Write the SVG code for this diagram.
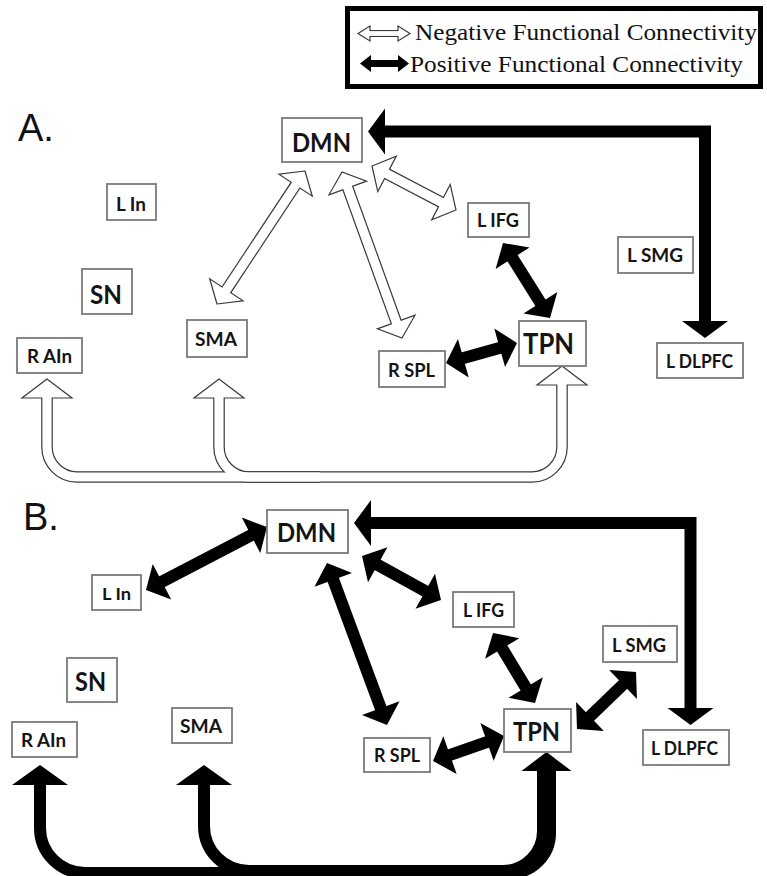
<svg xmlns="http://www.w3.org/2000/svg" width="767" height="876" viewBox="0 0 767 876">
<style>
.box{fill:#fff;stroke:#7a7a7a;stroke-width:1.8}
.lbl{font-family:Lato,"Liberation Sans",sans-serif;font-weight:bold;fill:#141414}
.panel{font-family:"Liberation Sans",Arial,sans-serif;font-size:38px;fill:#111}
.leg{font-family:"Liberation Serif","Times New Roman",serif;font-size:24px;fill:#111}
.hk{stroke:#3a3a3a;stroke-width:11.6;fill:none}
.hw{stroke:#fff;stroke-width:9.2;fill:none}
.hh{fill:#fff;stroke:#3a3a3a;stroke-width:1.2}
.bk{stroke:#000;stroke-width:12;fill:none}
.bh{fill:#000}
</style>
<defs>
<polygon id="hh1" points="0,0 -17,-20 -17,20"/>
<polygon id="hh2" points="0,0 -19,-25 -19,25"/>
<polygon id="bh1" points="0,0 -18,-20 -18,20"/>
<polygon id="bh2" points="0,0 -17,-23 -17,23"/>
<polygon id="bh3" points="0,0 -20,-28 -20,28"/>
<polygon id="bh4" points="0,0 -19,-25 -19,25"/>
</defs>
<rect width="767" height="876" fill="#fff"/>

<g id="legend">
<rect x="347.5" y="8.5" width="413" height="78" fill="#fff" stroke="#000" stroke-width="5"/>
<path d="M366,33.5 H402" stroke="#3a3a3a" stroke-width="7"/>
<polygon class="hh" points="358,33.5 370,26 370,41"/>
<polygon class="hh" points="410,33.5 398,26 398,41"/>
<path d="M368,33.5 H400" stroke="#fff" stroke-width="4.8"/>
<path d="M366,63.5 H403" stroke="#000" stroke-width="7"/>
<polygon fill="#000" points="360,63.5 371,55 371,72"/>
<polygon fill="#000" points="409,63.5 398,55 398,72"/>
<text class="leg" x="415" y="40" textLength="342" lengthAdjust="spacingAndGlyphs">Negative Functional Connectivity</text>
<text class="leg" x="410" y="72" textLength="333" lengthAdjust="spacingAndGlyphs">Positive Functional Connectivity</text>
</g>

<text class="panel" x="18" y="141">A.</text>
<text class="panel" x="23" y="530">B.</text>

<g id="connectors">
<g id="panelA-negative">
<path class="hk" d="M224.2,293.2 L297.8,181.8"/>
<path class="hk" d="M346.4,184.2 L397.6,325.8"/>
<path class="hk" d="M383.5,172 L444.5,204"/>
<path class="hk" d="M47,394 V447 A30,30 0 0 0 77,477 H532 A30,30 0 0 0 562,447 V381"/>
<path class="hk" d="M219,394 V447 A30,30 0 0 0 249,477 H320"/>
<use href="#hh1" class="hh" transform="translate(305,171) rotate(-56.5)"/>
<use href="#hh1" class="hh" transform="translate(217,304) rotate(123.5)"/>
<use href="#hh1" class="hh" transform="translate(402,338) rotate(70.1)"/>
<use href="#hh1" class="hh" transform="translate(342,172) rotate(-109.9)"/>
<use href="#hh1" class="hh" transform="translate(456,210) rotate(27.6)"/>
<use href="#hh1" class="hh" transform="translate(372,166) rotate(-152.4)"/>
<use href="#hh2" class="hh" transform="translate(47,379) rotate(-90)"/>
<use href="#hh2" class="hh" transform="translate(219,379) rotate(-90)"/>
<use href="#hh2" class="hh" transform="translate(562,366) rotate(-90)"/>
<path class="hw" d="M223.1,294.8 L298.9,180.2"/>
<path class="hw" d="M345.7,182.3 L398.3,327.7"/>
<path class="hw" d="M381.7,171.1 L446.3,204.9"/>
<path class="hw" d="M47,392 V447 A30,30 0 0 0 77,477 H532 A30,30 0 0 0 562,447 V379"/>
<path class="hw" d="M219,392 V447 A30,30 0 0 0 249,477 H320"/>
</g>
<g id="panelA-positive">
<path class="bk" d="M508.3,251.5 L544.7,309.5"/>
<use href="#bh1" class="bh" transform="translate(550,318) rotate(57.9)"/>
<use href="#bh1" class="bh" transform="translate(503,243) rotate(-122.1)"/>
<path class="bk" d="M455.6,360.3 L507.4,345.7"/>
<use href="#bh1" class="bh" transform="translate(517,343) rotate(-15.7)"/>
<use href="#bh1" class="bh" transform="translate(446,363) rotate(164.3)"/>
<path class="bk" stroke-width="11.5" d="M380,131.5 H705 V326"/>
<use href="#bh2" class="bh" transform="translate(368,131.5) rotate(180)"/>
<use href="#bh2" class="bh" transform="translate(705,338) rotate(90)"/>
</g>
<g id="panelB-positive">
<path class="bk" d="M154.9,585.4 L258.1,531.6"/>
<use href="#bh1" class="bh" transform="translate(267,527) rotate(-27.5)"/>
<use href="#bh1" class="bh" transform="translate(146,590) rotate(152.5)"/>
<path class="bk" d="M370.7,560.9 L432.3,595.1"/>
<use href="#bh1" class="bh" transform="translate(441,600) rotate(29.1)"/>
<use href="#bh1" class="bh" transform="translate(362,556) rotate(-150.9)"/>
<path class="bk" d="M330.5,572.4 L383.5,715.6"/>
<use href="#bh1" class="bh" transform="translate(387,725) rotate(69.7)"/>
<use href="#bh1" class="bh" transform="translate(327,563) rotate(-110.3)"/>
<path class="bk" d="M498.1,641.6 L529.9,694.4"/>
<use href="#bh1" class="bh" transform="translate(535,703) rotate(59)"/>
<use href="#bh1" class="bh" transform="translate(493,633) rotate(-121)"/>
<path class="bk" d="M628.8,679 L584.2,722"/>
<use href="#bh1" class="bh" transform="translate(577,729) rotate(136)"/>
<use href="#bh1" class="bh" transform="translate(636,672) rotate(-44)"/>
<path class="bk" d="M442.4,757.7 L494.6,739.3"/>
<use href="#bh1" class="bh" transform="translate(504,736) rotate(-19.4)"/>
<use href="#bh1" class="bh" transform="translate(433,761) rotate(160.6)"/>
<path class="bk" d="M366,523 H690.5 V714"/>
<use href="#bh2" class="bh" transform="translate(354,523) rotate(180)"/>
<use href="#bh2" class="bh" transform="translate(690.5,725) rotate(90)"/>
<path class="bk" stroke-width="13" d="M40,781 V828 A45,45 0 0 0 85,873 H510 A40,40 0 0 0 550,833 V770"/>
<path class="bk" stroke-width="13" d="M204,781 V826 A45,45 0 0 0 249,871 H503 A40,40 0 0 0 543,831 V770"/>
<use href="#bh3" class="bh" transform="translate(40,765) rotate(-90)"/>
<use href="#bh3" class="bh" transform="translate(204,765) rotate(-90)"/>
<use href="#bh4" class="bh" transform="translate(546.5,752) rotate(-90)"/>
</g>
</g>

<g id="a-dmn"><rect class="box" x="282" y="118" width="80" height="44"/><text class="lbl" x="292" y="152" font-size="26" textLength="59" lengthAdjust="spacingAndGlyphs">DMN</text></g>
<g id="a-lin"><rect class="box" x="107" y="184" width="49" height="36"/><text class="lbl" x="116" y="211" font-size="18" textLength="30" lengthAdjust="spacingAndGlyphs">L In</text></g>
<g id="a-sn"><rect class="box" x="82" y="269" width="50" height="45"/><text class="lbl" x="90" y="304" font-size="26" textLength="32" lengthAdjust="spacingAndGlyphs">SN</text></g>
<g id="a-rain"><rect class="box" x="17" y="338" width="65" height="35"/><text class="lbl" x="27" y="363" font-size="18" textLength="45" lengthAdjust="spacingAndGlyphs">R AIn</text></g>
<g id="a-sma"><rect class="box" x="187" y="320" width="60" height="37"/><text class="lbl" x="195" y="346" font-size="18" textLength="42" lengthAdjust="spacingAndGlyphs">SMA</text></g>
<g id="a-lifg"><rect class="box" x="468" y="203" width="61" height="34"/><text class="lbl" x="477" y="227" font-size="18" textLength="42" lengthAdjust="spacingAndGlyphs">L IFG</text></g>
<g id="a-lsmg"><rect class="box" x="618" y="237" width="75" height="36"/><text class="lbl" x="627" y="262" font-size="18" textLength="56" lengthAdjust="spacingAndGlyphs">L SMG</text></g>
<g id="a-tpn"><rect class="box" x="519" y="321" width="67" height="45"/><text class="lbl" x="523" y="354" font-size="29" textLength="51" lengthAdjust="spacingAndGlyphs">TPN</text></g>
<g id="a-rspl"><rect class="box" x="379" y="351" width="66" height="36"/><text class="lbl" x="388" y="377" font-size="18" textLength="47" lengthAdjust="spacingAndGlyphs">R SPL</text></g>
<g id="a-ldlpfc"><rect class="box" x="657" y="343" width="86" height="35"/><text class="lbl" x="666" y="368" font-size="18" textLength="67" lengthAdjust="spacingAndGlyphs">L DLPFC</text></g>

<g id="b-dmn"><rect class="box" x="267" y="510" width="81" height="43"/><text class="lbl" x="277" y="542" font-size="26" textLength="59" lengthAdjust="spacingAndGlyphs">DMN</text></g>
<g id="b-lin"><rect class="box" x="92" y="575" width="49" height="35"/><text class="lbl" x="102" y="600" font-size="17" textLength="29" lengthAdjust="spacingAndGlyphs">L In</text></g>
<g id="b-sn"><rect class="box" x="67" y="658" width="50" height="44"/><text class="lbl" x="75" y="691" font-size="26" textLength="31" lengthAdjust="spacingAndGlyphs">SN</text></g>
<g id="b-rain"><rect class="box" x="12" y="722" width="65" height="35"/><text class="lbl" x="21" y="747" font-size="18" textLength="45" lengthAdjust="spacingAndGlyphs">R AIn</text></g>
<g id="b-sma"><rect class="box" x="172" y="708" width="60" height="35"/><text class="lbl" x="180" y="733" font-size="18" textLength="42" lengthAdjust="spacingAndGlyphs">SMA</text></g>
<g id="b-lifg"><rect class="box" x="453" y="592" width="61" height="35"/><text class="lbl" x="463" y="617" font-size="18" textLength="41" lengthAdjust="spacingAndGlyphs">L IFG</text></g>
<g id="b-lsmg"><rect class="box" x="603" y="626" width="74" height="36"/><text class="lbl" x="612" y="652" font-size="18" textLength="54" lengthAdjust="spacingAndGlyphs">L SMG</text></g>
<g id="b-tpn"><rect class="box" x="504" y="709" width="67" height="43"/><text class="lbl" x="513" y="741" font-size="27" textLength="47" lengthAdjust="spacingAndGlyphs">TPN</text></g>
<g id="b-rspl"><rect class="box" x="364" y="738" width="66" height="34"/><text class="lbl" x="374" y="762" font-size="18" textLength="46" lengthAdjust="spacingAndGlyphs">R SPL</text></g>
<g id="b-ldlpfc"><rect class="box" x="643" y="730" width="86" height="35"/><text class="lbl" x="651" y="755" font-size="18" textLength="67" lengthAdjust="spacingAndGlyphs">L DLPFC</text></g>
</svg>
